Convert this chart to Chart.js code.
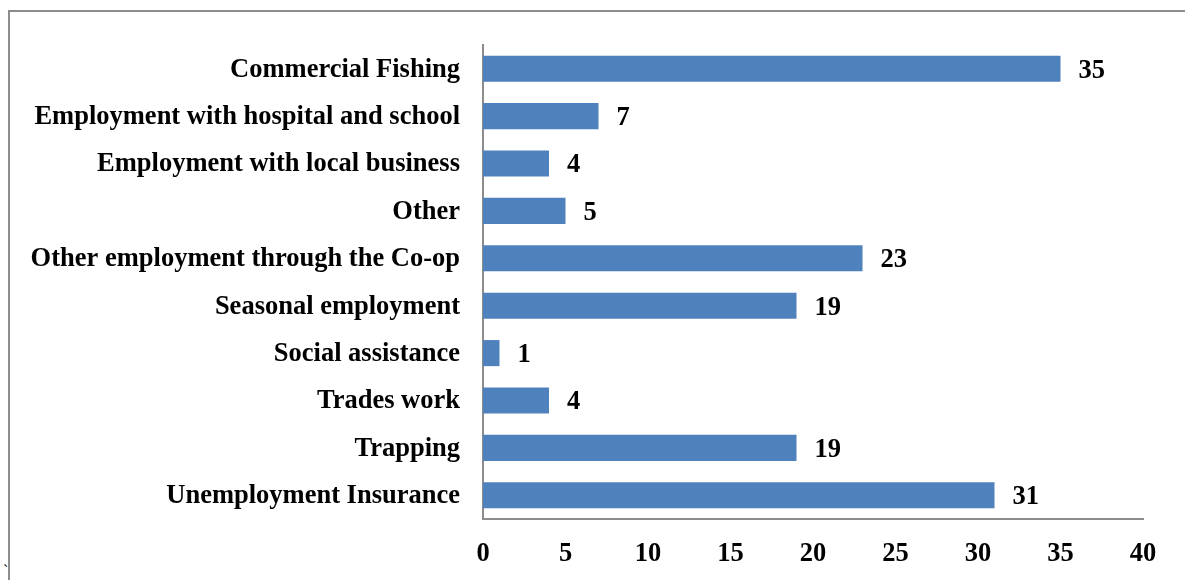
<!DOCTYPE html>
<html>
<head>
<meta charset="utf-8">
<script src="https://cdn.jsdelivr.net/npm/chart.js@4/dist/chart.umd.min.js"></script>
<style>
  html, body { margin: 0; padding: 0; background: #fff; }
  #wrap { position: relative; width: 1185px; height: 580px; overflow: hidden; }
  #frame { position: absolute; left: 8px; top: 10px; width: 1200px; height: 600px;
           border-left: 2px solid #8c8c8c; border-top: 2px solid #8c8c8c; }
  #tick { position: absolute; left: 3px; top: 562px; font: 16px "Liberation Serif", serif; color: #000; }
  canvas { position: absolute; left: 0; top: 0; }
</style>
</head>
<body>
<div id="wrap">
  <div id="frame"></div>
  <span id="tick">`</span>
  <canvas id="chart" width="1185" height="580"></canvas>
</div>
<script>
const categories = [
    'Commercial Fishing',
    'Employment with hospital and school',
    'Employment with local business',
    'Other',
    'Other employment through the Co-op',
    'Seasonal employment',
    'Social assistance',
    'Trades work',
    'Trapping',
    'Unemployment Insurance'
];
const counts = [35, 7, 4, 5, 23, 19, 1, 4, 19, 31];
const xTicks = [0, 5, 10, 15, 20, 25, 30, 35, 40];

const serif = '"Liberation Serif", "Times New Roman", serif';

// numbers written just past the end of each bar
const barLabels = {
    id: 'barLabels',
    afterDatasetsDraw(chart) {
        const ctx = chart.ctx;
        const meta = chart.getDatasetMeta(0);
        ctx.save();
        ctx.font = 'bold 26.5px ' + serif;
        ctx.fillStyle = '#000';
        ctx.textAlign = 'left';
        ctx.textBaseline = 'middle';
        meta.data.forEach((bar, i) => {
            ctx.fillText(String(counts[i]), bar.x + 18, bar.y + 2);
        });
        ctx.restore();
    }
};

document.addEventListener('DOMContentLoaded', () => {
    const ctx = document.getElementById('chart').getContext('2d');
    new Chart(ctx, {
        type: 'bar',
        data: {
            labels: categories,
            datasets: [{
                data: counts,
                backgroundColor: '#4F81BD',
                borderWidth: 0,
                barPercentage: 0.55,
                categoryPercentage: 1
            }]
        },
        options: {
            indexAxis: 'y',
            responsive: false,
            animation: false,
            layout: { padding: { top: 45, right: 42, left: 0, bottom: 0 } },
            plugins: { legend: { display: false }, tooltip: { enabled: false } },
            scales: {
                x: {
                    min: 0,
                    max: 40,
                    afterBuildTicks: (scale) => { scale.ticks = xTicks.map(v => ({ value: v })); },
                    afterFit: (scale) => { scale.height = 61; },
                    grid: { display: false, drawTicks: false },
                    border: { color: '#8c8c8c', width: 2 },
                    ticks: {
                        color: '#000',
                        padding: 19,
                        font: { family: serif, size: 26.5, weight: 'bold' }
                    }
                },
                y: {
                    afterFit: (scale) => { scale.width = 483; },
                    grid: { display: false, drawTicks: false },
                    border: { color: '#8c8c8c', width: 2 },
                    ticks: {
                        color: '#000',
                        padding: 23,
                        autoSkip: false,
                        labelOffset: 1,
                        font: { family: serif, size: 26.5, weight: 'bold' }
                    }
                }
            }
        },
        plugins: [barLabels]
    });
});
</script>
</body>
</html>
